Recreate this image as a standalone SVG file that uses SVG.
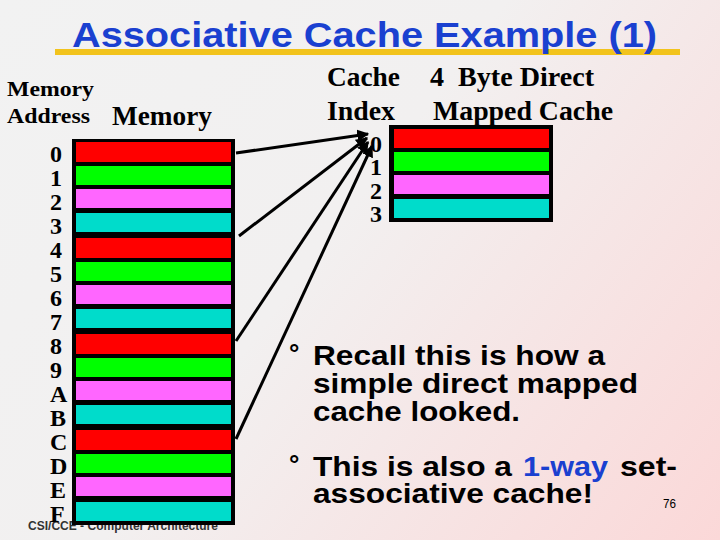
<svg xmlns="http://www.w3.org/2000/svg" width="720" height="540" viewBox="0 0 720 540">
  <defs>
    <linearGradient id="bg" x1="0" y1="0" x2="720" y2="540" gradientUnits="userSpaceOnUse">
      <stop offset="0" stop-color="#f2f2f2"/>
      <stop offset="0.45" stop-color="#f2f0f0"/>
      <stop offset="1" stop-color="#fbd8d8"/>
    </linearGradient>
    <marker id="ah" viewBox="0 0 10 10" refX="9" refY="5" markerWidth="4" markerHeight="4" orient="auto" markerUnits="strokeWidth">
      <path d="M0,0 L10,5 L0,10 z" fill="#000"/>
    </marker>
    <style>
      .serif { font-family: "Liberation Serif", "Times New Roman", serif; font-weight: bold; fill: #000; }
      .sans { font-family: "Liberation Sans", Arial, sans-serif; font-weight: bold; fill: #000; }
      .red { fill: #ff0000; }
      .green { fill: #00ff00; }
      .pink { fill: #ff66ff; }
      .cyan { fill: #00dccb; }
      .conn { stroke: #000; stroke-width: 3; fill: none; marker-end: url(#ah); }
    </style>
  </defs>
  <rect width="720" height="540" fill="url(#bg)"/>

  <g id="title">
    <rect x="55" y="49" width="625" height="6" fill="#f2c31c"/>
    <text x="72" y="47" class="sans" font-size="35" style="fill:#1a40d0" textLength="585" lengthAdjust="spacingAndGlyphs">Associative Cache Example (1)</text>
  </g>

  <g id="footer">
    <text x="28" y="530" class="sans" font-size="13" style="fill:#333" textLength="190" lengthAdjust="spacingAndGlyphs">CSI/CCE - Computer Architecture</text>
  </g>

  <g id="headers">
    <text x="7" y="96" class="serif" font-size="22" textLength="87" lengthAdjust="spacingAndGlyphs">Memory</text>
    <text x="7" y="123" class="serif" font-size="22" textLength="83" lengthAdjust="spacingAndGlyphs">Address</text>
    <text x="112" y="125" class="serif" font-size="27" textLength="100" lengthAdjust="spacingAndGlyphs">Memory</text>
    <text x="327" y="86" class="serif" font-size="27" textLength="73" lengthAdjust="spacingAndGlyphs">Cache</text>
    <text x="327" y="120" class="serif" font-size="27" textLength="68" lengthAdjust="spacingAndGlyphs">Index</text>
    <text x="430" y="86" class="serif" font-size="27" style="white-space:pre" textLength="164" lengthAdjust="spacingAndGlyphs">4  Byte Direct</text>
    <text x="433" y="120" class="serif" font-size="27" textLength="180" lengthAdjust="spacingAndGlyphs">Mapped Cache</text>
  </g>

  <g id="memory">
    <rect x="72" y="139" width="163" height="386" fill="#000"/>
    <rect x="76" y="142" width="155" height="20" class="red"/>
    <rect x="76" y="166" width="155" height="19" class="green"/>
    <rect x="76" y="189" width="155" height="19" class="pink"/>
    <rect x="76" y="213" width="155" height="19" class="cyan"/>
    <rect x="76" y="238" width="155" height="20" class="red"/>
    <rect x="76" y="262" width="155" height="19" class="green"/>
    <rect x="76" y="285" width="155" height="19" class="pink"/>
    <rect x="76" y="309" width="155" height="19" class="cyan"/>
    <rect x="76" y="334" width="155" height="20" class="red"/>
    <rect x="76" y="358" width="155" height="19" class="green"/>
    <rect x="76" y="381" width="155" height="19" class="pink"/>
    <rect x="76" y="405" width="155" height="19" class="cyan"/>
    <rect x="76" y="430" width="155" height="20" class="red"/>
    <rect x="76" y="454" width="155" height="19" class="green"/>
    <rect x="76" y="477" width="155" height="19" class="pink"/>
    <rect x="76" y="502" width="155" height="19" class="cyan"/>
  </g>

  <g id="memory-addresses" class="serif" font-size="24">
    <text x="50" y="162">0</text>
    <text x="50" y="186">1</text>
    <text x="50" y="210">2</text>
    <text x="50" y="234">3</text>
    <text x="50" y="258">4</text>
    <text x="50" y="282">5</text>
    <text x="50" y="306">6</text>
    <text x="50" y="330">7</text>
    <text x="50" y="354">8</text>
    <text x="50" y="378">9</text>
    <text x="50" y="402">A</text>
    <text x="50" y="426">B</text>
    <text x="50" y="450">C</text>
    <text x="50" y="474">D</text>
    <text x="50" y="498">E</text>
    <text x="50" y="522">F</text>
  </g>

  <g id="cache">
    <rect x="389" y="125" width="164" height="97" fill="#000"/>
    <rect x="394" y="129" width="155" height="19" class="red"/>
    <rect x="394" y="152" width="155" height="19" class="green"/>
    <rect x="394" y="175" width="155" height="19" class="pink"/>
    <rect x="394" y="199" width="155" height="19" class="cyan"/>
  </g>

  <g id="cache-index" class="serif" font-size="24">
    <text x="370" y="152">0</text>
    <text x="370" y="175">1</text>
    <text x="370" y="199">2</text>
    <text x="370" y="222">3</text>
  </g>

  <g id="connectors">
    <line class="conn" x1="236" y1="153" x2="368" y2="134"/>
    <line class="conn" x1="239" y1="236" x2="367" y2="138"/>
    <line class="conn" x1="236" y1="341" x2="368" y2="142"/>
    <line class="conn" x1="236" y1="439" x2="372" y2="146"/>
  </g>

  <g id="bullets" class="sans" font-size="28">
    <text x="289" y="362" font-size="26">°</text>
    <text x="313" y="365" textLength="292" lengthAdjust="spacingAndGlyphs">Recall this is how a</text>
    <text x="313" y="393" textLength="325" lengthAdjust="spacingAndGlyphs">simple direct mapped</text>
    <text x="313" y="421" textLength="207" lengthAdjust="spacingAndGlyphs">cache looked.</text>
    <text x="289" y="473" font-size="26">°</text>
    <text y="476"><tspan x="313" textLength="199" lengthAdjust="spacingAndGlyphs">This is also a</tspan><tspan x="523" style="fill:#1a40d0" textLength="85" lengthAdjust="spacingAndGlyphs">1-way</tspan><tspan x="620" textLength="57" lengthAdjust="spacingAndGlyphs">set-</tspan></text>
    <text x="313" y="503" textLength="280" lengthAdjust="spacingAndGlyphs">associative cache!</text>
  </g>

  <g id="page-number">
    <text x="663" y="508" font-family="Liberation Sans, Arial, sans-serif" font-size="13" fill="#000" textLength="13" lengthAdjust="spacingAndGlyphs">76</text>
  </g>
</svg>
